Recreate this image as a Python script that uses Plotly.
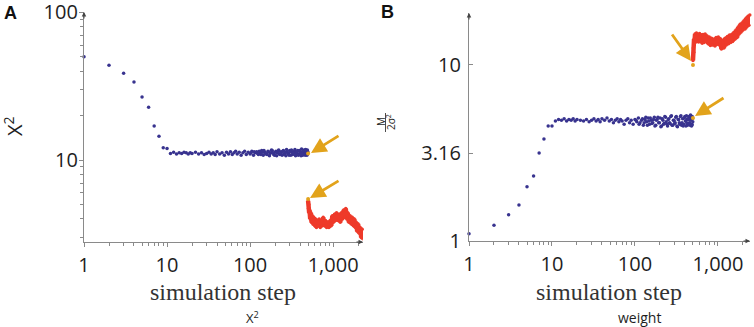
import plotly.graph_objects as go

W, H = 754, 327

# ---------------- data ----------------
early_steps = [1, 2, 3, 4, 5, 6, 7, 8, 9, 10]
chi2_early = [50.0, 43.8, 38.7, 33.7, 26.7, 22.8, 17.0, 14.5, 12.1, 12.0]
weight_early = [1.10, 1.23, 1.41, 1.60, 2.03, 2.34, 3.16, 3.80, 4.50, 4.50]

plateau_steps = [11, 12, 13, 14, 15, 16, 17, 18, 19, 20,
                 22, 24, 26, 28, 30, 32, 34, 36, 38, 40,
                 43, 46, 49, 52, 55, 58, 61, 64, 67, 70,
                 74, 78, 82, 86, 90, 95, 100, 105, 110, 115,
                 120, 126, 132, 138, 144, 150, 157, 164, 171, 178,
                 185, 193, 201, 209, 217, 225, 234, 243, 252, 261,
                 270, 280, 290, 300, 310, 320, 331, 342, 353, 364,
                 375, 387, 399, 411, 423, 435, 448, 461, 474, 487,
                 103, 112, 123, 129, 135, 141, 147, 153, 160, 167,
                 174, 181, 189, 197, 205, 213, 221, 229, 238, 247,
                 256, 265, 275, 285, 295, 305, 315, 325, 336, 347,
                 358, 369, 381, 393, 405, 417, 429, 441, 454, 467,
                 480, 493, 497, 490, 484, 470, 458, 444, 432, 420]
chi2_plateau = [11.1, 11.3, 11.0, 11.2, 11.1, 11.3, 11.2, 11.0, 11.2, 11.1,
                11.3, 11.0, 11.2, 10.9, 11.1, 11.3, 11.0, 11.2, 10.9, 11.4,
                11.0, 11.2, 10.8, 11.3, 11.0, 11.4, 10.9, 11.2, 11.5, 11.0,
                11.3, 10.8, 11.2, 11.5, 10.9, 11.3, 11.0, 11.5, 10.8, 11.2,
                11.4, 10.9, 11.2, 11.6, 10.8, 11.3, 11.0, 11.5, 10.7, 11.2,
                11.6, 10.9, 11.3, 10.7, 11.5, 11.0, 11.4, 10.8, 11.6, 11.1,
                10.7, 11.4, 11.0, 11.6, 10.8, 11.3, 11.0, 11.5, 10.7, 11.2,
                11.6, 10.9, 11.4, 10.7, 11.3, 11.0, 11.7, 10.8, 11.4, 11.0,
                11.2, 11.4, 11.1, 11.5, 10.9, 11.3, 11.6, 11.1, 10.9, 11.4,
                11.1, 11.7, 11.2, 10.8, 11.5, 11.2, 11.7, 10.9, 11.2, 11.5,
                10.9, 11.3, 11.8, 11.1, 10.8, 11.4, 11.7, 10.9, 11.2, 11.8,
                11.0, 11.4, 10.8, 11.6, 11.2, 11.9, 10.8, 11.4, 11.1, 11.8,
                10.9, 11.5, 11.2, 11.7, 10.8, 11.2, 11.6, 10.9, 11.5, 11.0]
weight_plateau = [4.80, 4.90, 4.85, 4.95, 4.80, 4.90, 4.85, 4.95, 4.80, 4.90,
                  4.85, 4.80, 4.90, 4.75, 4.85, 4.95, 4.80, 4.90, 4.75, 4.95,
                  4.85, 5.00, 4.80, 4.90, 4.70, 4.85, 4.95, 4.75, 4.90, 4.80,
                  4.60, 4.85, 4.95, 4.70, 4.85, 4.60, 4.90, 4.75, 5.00, 4.70,
                  4.85, 4.55, 4.90, 4.75, 5.00, 4.60, 4.85, 4.70, 5.05, 4.55,
                  4.90, 4.70, 5.00, 4.50, 4.85, 4.65, 5.05, 4.60, 4.90, 4.70,
                  5.10, 4.55, 4.85, 4.65, 5.05, 4.50, 4.90, 4.70, 5.10, 4.55,
                  4.95, 4.60, 5.10, 4.50, 4.90, 4.65, 5.10, 4.55, 4.95, 4.60,
                  4.85, 4.60, 4.95, 4.70, 5.05, 4.55, 4.80, 5.00, 4.65, 4.90,
                  4.50, 4.85, 5.05, 4.70, 4.45, 4.95, 4.60, 5.10, 4.75, 4.50,
                  4.95, 4.65, 5.15, 4.55, 4.85, 4.70, 5.10, 4.45, 4.90, 4.60,
                  5.15, 4.70, 4.50, 5.00, 4.80, 5.15, 4.55, 4.90, 4.70, 5.20,
                  4.50, 4.95, 4.75, 5.10, 4.55, 4.85, 5.05, 4.60, 4.95, 4.70]

switch_step = [500]
chi2_switch = [11.1, 5.45]
weight_switch = [5.0, 10.0]

late_steps = [500, 505, 510, 515, 520, 530, 540, 550, 560, 570,
              585, 600, 615, 630, 645, 660, 680, 700, 720, 740,
              760, 785, 810, 835, 860, 890, 920, 950, 980, 1010,
              1040, 1070, 1100, 1140, 1180, 1220, 1260, 1300, 1340, 1380,
              1420, 1460, 1500, 1550, 1600, 1650, 1700, 1750, 1800, 1850,
              1900, 1950, 2000, 2060, 2120, 2180, 2240, 2300, 2360, 2420,
              2480, 2520]
chi2_late = [5.3, 4.7, 5.0, 4.4, 4.6, 4.0, 4.4, 3.8, 4.2, 3.7,
             4.1, 3.6, 4.0, 3.5, 3.9, 3.6, 4.0, 3.5, 3.9, 3.6,
             4.1, 3.6, 3.9, 3.5, 3.8, 3.5, 3.9, 3.6, 4.2, 3.8,
             4.3, 3.9, 4.4, 3.9, 4.3, 3.8, 4.4, 4.0, 4.6, 4.1,
             4.7, 4.0, 4.4, 3.8, 4.2, 3.7, 4.1, 3.6, 4.0, 3.5,
             3.8, 3.3, 3.7, 3.2, 3.5, 3.0, 3.4, 2.9, 3.2, 2.85,
             3.1, 2.9]
weight_late = [10.6, 12.5, 11.8, 14.0, 13.2, 15.0, 13.8, 15.2, 13.6, 14.9,
               13.5, 15.1, 13.8, 14.8, 13.3, 14.9, 13.4, 15.0, 13.6, 14.6,
               13.2, 14.4, 12.9, 14.2, 13.0, 14.0, 12.8, 14.3, 13.1, 14.4,
               13.0, 14.1, 12.3, 13.4, 12.5, 14.2, 13.0, 14.5, 13.2, 14.8,
               13.4, 14.9, 13.6, 15.3, 14.0, 15.8, 14.3, 16.4, 15.0, 17.0,
               15.4, 17.3, 15.8, 17.8, 16.0, 18.4, 16.5, 18.9, 16.8, 19.2,
               17.0, 18.6]

x_tickvals = [1, 10, 100, 1000]
x_ticktext = ["1", "10", "100", "1,000"]
x_minor = [2, 3, 4, 5, 6, 7, 8, 9, 20, 30, 40, 50, 60, 70, 80, 90,
           200, 300, 400, 500, 600, 700, 800, 900, 2000]
a_y_tickvals = [10, 100]
a_y_ticktext = ["10", "100"]
a_y_minor = [3, 4, 5, 6, 7, 8, 9, 20, 30, 40, 50, 60, 70, 80, 90]
b_y_tickvals = [1, 3.16, 10]
b_y_ticktext = ["1", "3.16", "10"]

# ---------------- style ----------------
BLUE = "#38338f"
RED = "#ee3a2a"
GOLD = "#e2a31b"
AXIS = "#8a8a8a"
TXT = "#1e1e1e"
TICKFONT = dict(family="Open Sans", size=20, color=TXT)


def px(x):
    return x / W


def py(y):
    return 1 - y / H


fig = go.Figure()

for xa, ya, yearly, yplat, ylate, yswitch in [
    ("x", "y", chi2_early, chi2_plateau, chi2_late, chi2_switch),
    ("x2", "y2", weight_early, weight_plateau, weight_late, weight_switch),
]:
    fig.add_trace(go.Scatter(x=early_steps + plateau_steps, y=yearly + yplat,
                             mode="markers", xaxis=xa, yaxis=ya,
                             marker=dict(color=BLUE, size=3.5),
                             cliponaxis=False, showlegend=False, hoverinfo="skip"))
    fig.add_trace(go.Scatter(x=late_steps, y=ylate, mode="lines+markers",
                             xaxis=xa, yaxis=ya,
                             line=dict(color=RED, width=4.5),
                             marker=dict(color=RED, size=3.5),
                             cliponaxis=False, showlegend=False, hoverinfo="skip"))
    fig.add_trace(go.Scatter(x=switch_step * 2, y=yswitch, mode="markers",
                             xaxis=xa, yaxis=ya,
                             marker=dict(color=GOLD, size=4),
                             cliponaxis=False, showlegend=False, hoverinfo="skip"))

common_axis = dict(type="log", showgrid=False, zeroline=False, showline=True,
                   linecolor=AXIS, linewidth=1.2, tickcolor=AXIS, ticklen=4,
                   tickfont=TICKFONT, tickmode="array", automargin=False,
                   ticklabeloverflow="allow")

A_XDOM = [px(84), px(363)]
A_YDOM = [py(242), py(12)]
B_XDOM = [px(469), px(750)]
B_YDOM = [py(241), py(13)]
A_XR = [0, 3.36]
A_YR = [0.446, 2.002]
B_XR = [0, 3.386]
B_YR = [0, 1.295]

# mirror axes carrying the inward half of the crossing ticks
mirror = dict(type="log", showgrid=False, zeroline=False, showline=False,
              showticklabels=False, tickcolor=AXIS, ticklen=4, ticks="inside",
              tickmode="array", automargin=False)

fig.update_layout(
    width=W, height=H, margin=dict(l=0, r=0, t=0, b=0, autoexpand=False),
    paper_bgcolor="white", plot_bgcolor="rgba(0,0,0,0)",
    xaxis=dict(common_axis, domain=A_XDOM, range=A_XR,
               anchor="y", tickvals=x_tickvals, ticktext=x_ticktext,
               ticks="outside", ticklabelstandoff=1,
               minor=dict(tickvals=x_minor, ticks="outside", ticklen=3, tickcolor=AXIS)),
    yaxis=dict(common_axis, domain=A_YDOM, range=A_YR,
               anchor="x", tickvals=a_y_tickvals, ticktext=a_y_ticktext,
               ticks="outside", ticklabelstandoff=-3,
               minor=dict(tickvals=a_y_minor, ticks="outside", ticklen=3, tickcolor=AXIS)),
    xaxis2=dict(common_axis, domain=B_XDOM, range=B_XR,
                anchor="y2", tickvals=x_tickvals, ticktext=x_ticktext,
                ticks="outside", ticklabelstandoff=1,
                minor=dict(tickvals=x_minor, ticks="outside", ticklen=3, tickcolor=AXIS)),
    yaxis2=dict(common_axis, domain=B_YDOM, range=B_YR,
                anchor="x2", tickvals=b_y_tickvals, ticktext=b_y_ticktext,
                ticks="inside", ticklabelstandoff=3),
    xaxis3=dict(mirror, overlaying="x", anchor="y", domain=A_XDOM, range=A_XR,
                tickvals=x_tickvals,
                minor=dict(tickvals=x_minor, ticks="inside", ticklen=3, tickcolor=AXIS)),
    yaxis3=dict(mirror, overlaying="y", anchor="x", domain=A_YDOM, range=A_YR,
                tickvals=a_y_tickvals,
                minor=dict(tickvals=a_y_minor, ticks="inside", ticklen=3, tickcolor=AXIS)),
    xaxis4=dict(mirror, overlaying="x2", anchor="y2", domain=B_XDOM, range=B_XR,
                tickvals=x_tickvals,
                minor=dict(tickvals=x_minor, ticks="inside", ticklen=3, tickcolor=AXIS)),
)

annotations = []
# axis arrowheads
for (tx, ty, ax, ay) in [(363, 242, -8, 0), (84, 12, 0, 8), (750, 241, -8, 0), (469, 13, 0, 8)]:
    annotations.append(dict(x=px(tx), y=py(ty), xref="paper", yref="paper", text="",
                            showarrow=True, ax=ax, ay=ay, arrowhead=2, arrowsize=0.9,
                            arrowwidth=1, arrowcolor="#444"))
# gold arrows pointing at the switch
for (tx, ty, tailx, taily) in [(311, 153, 340, 135), (310, 198, 340, 180),
                               (691, 61, 671, 33), (695, 116, 725, 97)]:
    annotations.append(dict(x=px(tx), y=py(ty), xref="paper", yref="paper", text="",
                            showarrow=True, ax=tailx - tx, ay=taily - ty, arrowhead=2,
                            arrowsize=1.1, arrowwidth=2.8, arrowcolor=GOLD, standoff=0))


def label(x, y, text, font, angle=0):
    annotations.append(dict(x=px(x), y=py(y), xref="paper", yref="paper", text=text,
                            showarrow=False, xanchor="center", yanchor="middle",
                            textangle=angle, font=font))


# panel letters
label(10, 13, "<b>A</b>", dict(family="Liberation Sans", size=18, color="#111"))
label(387, 12, "<b>B</b>", dict(family="Liberation Sans", size=18, color="#111"))
# y titles
label(13, 126, "Χ<sup>2</sup>", dict(family="Open Sans", size=20, color=TXT), -90)
label(381, 122, "M", dict(family="Open Sans", size=10, color=TXT), -90)
label(391, 122, "2σ<sup>2</sup>", dict(family="Open Sans", size=10, color=TXT), -90)
# x titles and captions
label(223, 292, "simulation step", dict(family="Liberation Serif", size=24, color="#333"))
label(609, 292, "simulation step", dict(family="Liberation Serif", size=24, color="#333"))
label(252, 317, "Χ<sup>2</sup>", dict(family="Open Sans", size=13, color=TXT))
label(639, 317, "weight", dict(family="Open Sans", size=14, color=TXT))

fig.update_layout(annotations=annotations,
                  shapes=[dict(type="line", xref="paper", yref="paper",
                               x0=px(385.5), x1=px(385.5), y0=py(113), y1=py(132),
                               line=dict(color=TXT, width=0.8))])

fig.write_html("out.html", config={"displayModeBar": False},
               post_script="document.body.style.margin='0';")
